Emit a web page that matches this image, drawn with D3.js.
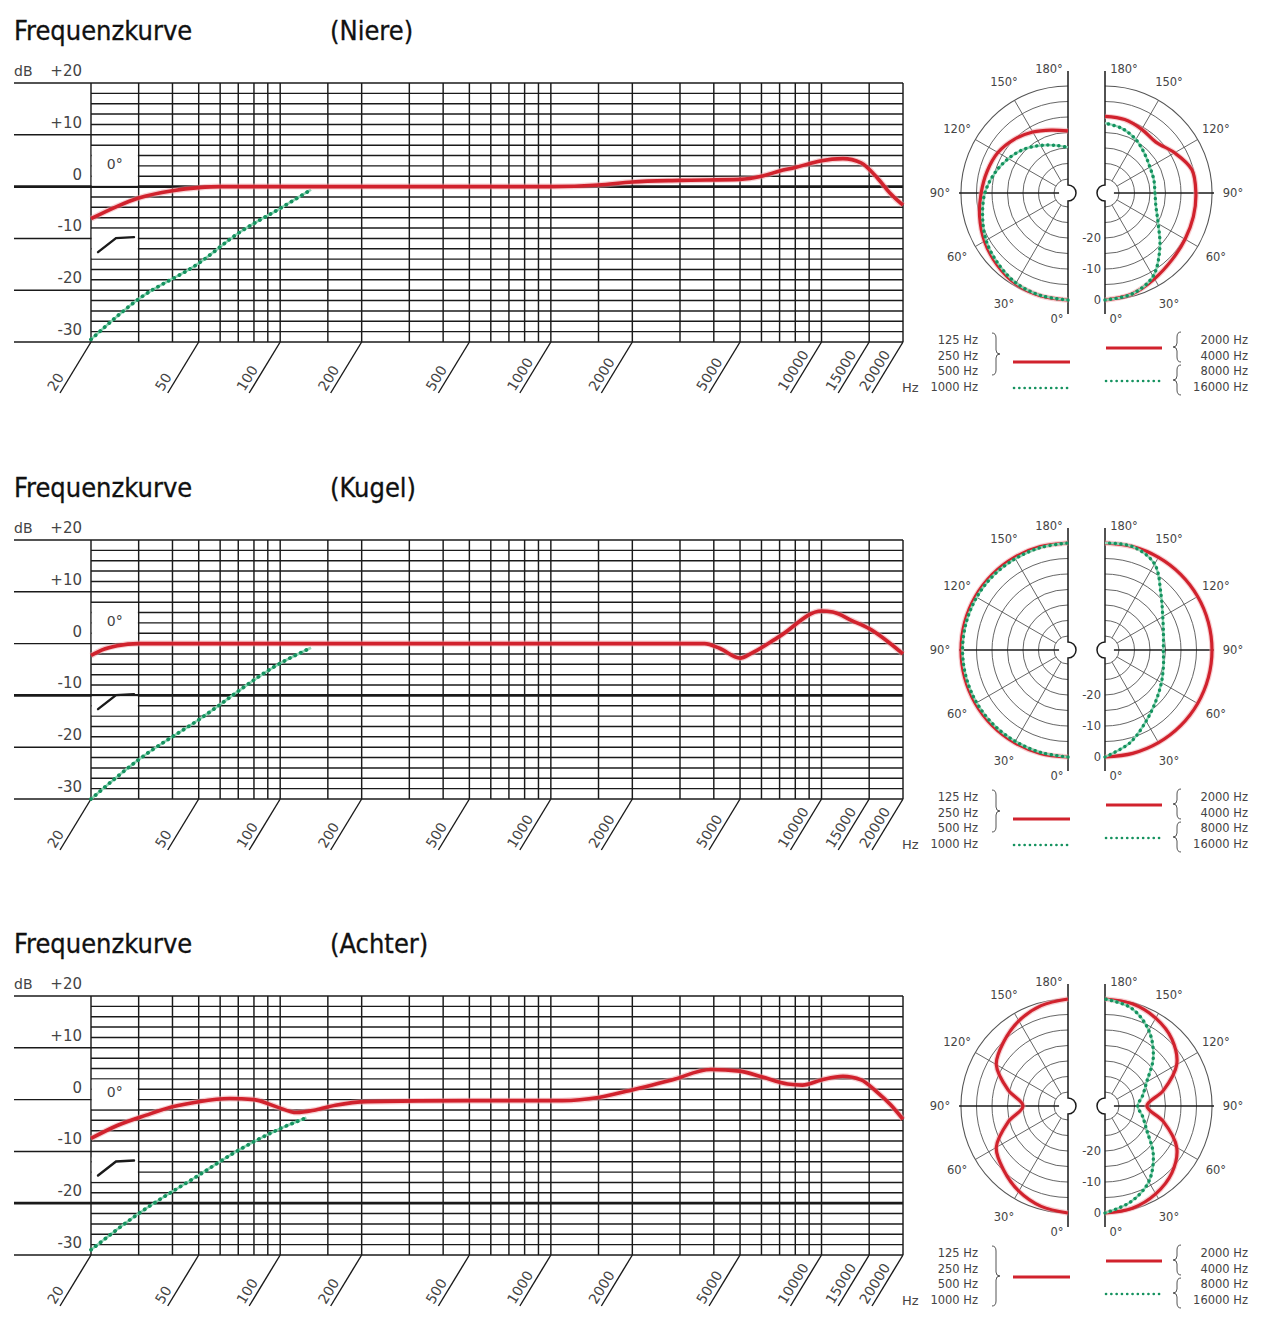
<!DOCTYPE html>
<html>
<head>
<meta charset="utf-8">
<script src="https://cdn.jsdelivr.net/npm/d3@7"></script>
<style>
  body { margin: 0; background: #fff; }
</style>
</head>
<body>
<div id="chart"></div>
<script>
// ---- axis values ----
const gridHz = [20,30,40,50,60,70,80,90,100,150,200,300,400,500,600,700,800,900,
                1000,1500,2000,3000,4000,5000,6000,7000,8000,9000,10000,15000,20000];
const labelHz = [20,50,100,200,500,1000,2000,5000,10000,15000,20000];
const dbValues = [20,10,0,-10,-20,-30];
const dbLabels = ["+20","+10","0","-10","-20","-30"];
const polarDeg = [0,15,30,45,60,75,90,105,120,135,150,165,180];
const polarLabelDeg = [0,30,60,90,120,150,180];
const polarRingDb = [-30,-25,-20,-15,-10,-5,0];
const polarRadialLabels = [0,-10,-20];
const lowBand = ["125 Hz","250 Hz","500 Hz","1000 Hz"];
const highBand = ["2000 Hz","4000 Hz","8000 Hz","16000 Hz"];
const titles = ["(Niere)","(Kugel)","(Achter)"];

// ---- frequency response [Hz, dB] ----
const niereRed = [[20,-6.2],[25,-3.8],[30,-2.2],[40,-0.8],[50,-0.2],[60,0],[100,0],[500,0],[1000,0],
  [1500,0.3],[2000,0.9],[3000,1.2],[5000,1.4],[6000,2],[7000,3],[8000,3.7],[9000,4.4],[10000,5],
  [12000,5.4],[14000,4.6],[16000,1.8],[18000,-1.4],[20000,-3.6]];
const niereGreen = [[20,-29.5],[30,-21.7],[50,-14.8],[70,-9],[100,-4.2],[130,-0.6]];

const kugelRed = [[20,-2.3],[22,-1.2],[25,-0.4],[30,0],[100,0],[1000,0],[3700,0],[4200,-0.9],
  [5000,-2.8],[5500,-1.9],[7000,1.4],[10000,6.3],[11000,6.1],[13000,4.4],[15000,2.9],[20000,-2]];
const kugelGreen = [[20,-30],[30,-22.4],[50,-14.7],[100,-3.8],[130,-0.8]];

const achterRed = [[20,-7.5],[25,-5],[32,-3],[40,-1.4],[50,-0.4],[65,0.2],[80,0],[97,-1.4],[115,-2.5],
  [135,-2],[160,-1.1],[210,-0.4],[500,-0.2],[1100,-0.2],[1500,0.4],[1900,1.6],[2800,3.8],[3900,5.8],
  [5000,5.5],[6000,4.4],[7500,3],[8500,2.8],[10000,3.8],[12000,4.5],[14000,3.8],[16000,1.5],
  [18000,-1],[20000,-3.8]];
const achterGreen = [[20,-29],[30,-22],[50,-14.6],[70,-9.8],[100,-5.6],[125,-3.5]];

// ---- polar patterns, dB at polarDeg ----
const niereLowRed    = [0,-0.2,-0.7,-2,-3.4,-5,-6.5,-7.5,-8.4,-10,-11.8,-13.5,-14.5];
const niereLowGreen  = [0,-0.3,-1,-2.5,-4,-6,-7.7,-10,-12.3,-14.5,-16.8,-18.6,-19.8];
const niereHighRed   = [0,-0.8,-2.6,-4,-4.7,-5,-5.2,-5.5,-8.6,-11.3,-10.8,-10,-9.8];
const niereHighGreen = [0,-0.8,-3.5,-9.5,-14.7,-17.5,-18.4,-18.2,-17.8,-16.5,-14.6,-13,-12];

const kugelLowRed    = [0,0,0,0,0,0,0,0,0,0,0,0,0];
const kugelLowGreen  = [0,-0.3,-0.5,-0.5,-0.5,-0.5,-0.5,-0.5,-0.5,-0.5,-0.5,-0.3,0];
const kugelHighRed   = [0,0,0,0,0,0,0,0,0,0,0,0,0];
const kugelHighGreen = [0,-3.5,-8,-11.3,-13.5,-15,-15.7,-15,-13,-9,-2.5,0,0];

const achterLowRed    = [0,-1,-2.8,-5.2,-7.8,-14.5,-20,-14.5,-7.8,-5.2,-2.8,-1,0];
const achterHighRed   = [0,-0.4,-1.8,-4,-7.8,-15,-21,-15,-7.8,-4,-1.8,-0.4,0];
const achterHighGreen = [0,-2.5,-6.3,-12.5,-19,-22,-24,-22,-19,-12.5,-6.3,-1.8,0];

const panels = [
  { dy: 0,   title: titles[0], red: niereRed,  green: niereGreen,  refDb: 0,
    box0: [8,0],  hpBox: [-8,-14],  lowRed: niereLowRed,  lowGreen: niereLowGreen,
    highRed: niereHighRed,  highGreen: niereHighGreen },
  { dy: 457, title: titles[1], red: kugelRed,  green: kugelGreen,  refDb: -10,
    box0: [8,0],  hpBox: [-10,-14], lowRed: kugelLowRed,  lowGreen: kugelLowGreen,
    highRed: kugelHighRed,  highGreen: kugelHighGreen },
  { dy: 913, title: titles[2], red: achterRed, green: achterGreen, refDb: -20,
    box0: [4,-2], hpBox: [-11,-16], lowRed: achterLowRed, lowGreen: null,
    highRed: achterHighRed, highGreen: achterHighGreen }
];

const W = 1265, H = 1320;
const red = "#d1222d", redHalo = "#f0a0a6", green = "#15925f", greenLight = "#8fd6b6";
const ink = "#1a1a1a", grey = "#444";
const font = "'DejaVu Sans', sans-serif";

const svg = d3.select("#chart").append("svg")
  .attr("width", W).attr("height", H)
  .style("font-family", font);

const x = d3.scaleLog().domain([20, 20000]).range([91, 903]);
const y = d3.scaleLinear().domain([-30, 20]).range([342, 83]);
const r = d3.scaleLinear().domain([-30, 0]).range([14, 107]);

const freqLine = d3.line().x(d => x(d[0])).y(d => y(d[1])).curve(d3.curveMonotoneX);

function brace(bx, y0, y1, dir) {
  const m = (y0 + y1) / 2, w = 4 * dir;
  return `M${bx},${y0} Q${bx+w},${y0} ${bx+w},${y0+5} L${bx+w},${m-4} Q${bx+w},${m} ${bx+2*w},${m}` +
         ` Q${bx+w},${m} ${bx+w},${m+4} L${bx+w},${y1-5} Q${bx+w},${y1} ${bx},${y1}`;
}

function drawHalf(g, cx, cy, side, redVals, greenVals) {
  const pt = (deg, rad) => {
    const t = deg * Math.PI / 180;
    return [cx + side * rad * Math.sin(t), cy + rad * Math.cos(t)];
  };
  // rings
  polarRingDb.forEach(db => {
    const p = d3.path();
    if (side > 0) p.arc(cx, cy, r(db), -Math.PI / 2, Math.PI / 2);
    else p.arc(cx, cy, r(db), Math.PI / 2, 3 * Math.PI / 2);
    g.append("path").attr("d", p.toString()).attr("fill", "none")
      .attr("stroke", "#555").attr("stroke-width", db === 0 ? 1.1 : 0.9);
  });
  // spokes
  [30, 60, 120, 150].forEach(a => {
    const p0 = pt(a, r(-30)), p1 = pt(a, r(0));
    g.append("line").attr("x1", p0[0]).attr("y1", p0[1]).attr("x2", p1[0]).attr("y2", p1[1])
      .attr("stroke", "#555").attr("stroke-width", 0.9);
  });
  // 90° axis
  const h1 = pt(90, r(0) + 2);
  g.append("line").attr("x1", cx).attr("y1", cy).attr("x2", h1[0]).attr("y2", cy)
    .attr("stroke", ink).attr("stroke-width", 1.4);
  // centre hole
  g.append("circle").attr("cx", cx).attr("cy", cy).attr("r", 9).attr("fill", "#fff");
  // vertical axis with notch
  const notch = d3.path();
  notch.moveTo(cx, cy - 122);
  notch.lineTo(cx, cy - 8);
  notch.arc(cx, cy, 8, -Math.PI / 2, Math.PI / 2, side > 0);
  notch.lineTo(cx, cy + 121);
  g.append("path").attr("d", notch.toString()).attr("fill", "none")
    .attr("stroke", ink).attr("stroke-width", 1.5);

  const radial = d3.lineRadial()
    .angle(d => side > 0 ? Math.PI - d[0] * Math.PI / 180 : Math.PI + d[0] * Math.PI / 180)
    .radius(d => r(d[1]))
    .curve(d3.curveCatmullRom);
  const gc = g.append("g").attr("transform", `translate(${cx},${cy})`);
  const redPts = polarDeg.map((a, i) => [a, redVals[i]]);
  gc.append("path").attr("d", radial(redPts)).attr("fill", "none")
    .attr("stroke", redHalo).attr("stroke-width", 5.5).attr("stroke-opacity", 0.5);
  gc.append("path").attr("d", radial(redPts)).attr("fill", "none")
    .attr("stroke", red).attr("stroke-width", 3.2);
  if (greenVals) {
    const gPts = polarDeg.map((a, i) => [a, greenVals[i]]);
    gc.append("path").attr("d", radial(gPts)).attr("fill", "none")
      .attr("stroke", greenLight).attr("stroke-width", 2.4);
    gc.append("path").attr("d", radial(gPts)).attr("fill", "none")
      .attr("stroke", green).attr("stroke-width", 3.4)
      .attr("stroke-linecap", "round").attr("stroke-dasharray", "0.1 5.5");
  }

  // angle labels
  polarLabelDeg.forEach(a => {
    let px, py;
    if (a === 180) { px = cx + side * 19; py = cy - 124; }
    else if (a === 0) { px = cx + side * 11; py = cy + 126; }
    else { [px, py] = pt(a, 128); }
    g.append("text").attr("x", px).attr("y", py).attr("text-anchor", "middle")
      .attr("dominant-baseline", "central").attr("font-size", 11.5).attr("fill", grey)
      .text(a + "°");
  });
}

panels.forEach(p => {
  const g = svg.append("g").attr("transform", `translate(0,${p.dy})`);

  // titles
  g.append("text").attr("x", 14).attr("y", 40).attr("font-size", 27)
    .attr("font-family", "'DejaVu Sans Condensed', 'DejaVu Sans', sans-serif")
    .attr("fill", "#111").attr("stroke", "#111").attr("stroke-width", 0.3)
    .text("Frequenzkurve");
  g.append("text").attr("x", 330).attr("y", 40).attr("font-size", 27)
    .attr("font-family", "'DejaVu Sans Condensed', 'DejaVu Sans', sans-serif")
    .attr("fill", "#111").attr("stroke", "#111").attr("stroke-width", 0.3)
    .text(p.title);

  // horizontal grid every 2 dB, long lines at every 10 dB
  g.append("g").selectAll("line").data(d3.range(-30, 21, 2)).join("line")
    .attr("x1", d => d % 10 === 0 ? 14 : x(20)).attr("x2", x(20000))
    .attr("y1", d => y(d)).attr("y2", d => y(d))
    .attr("stroke", ink).attr("stroke-width", d => d === p.refDb ? 2.7 : 1.45);

  // vertical grid
  g.append("g").selectAll("line").data(gridHz).join("line")
    .attr("x1", d => x(d)).attr("x2", d => x(d))
    .attr("y1", y(20)).attr("y2", y(-30))
    .attr("stroke", ink).attr("stroke-width", 1.45);

  // y labels
  g.append("text").attr("x", 14).attr("y", y(20) - 7).attr("font-size", 14)
    .attr("fill", grey).text("dB");
  g.append("g").selectAll("text").data(dbValues).join("text")
    .attr("x", 82).attr("y", d => y(d) - 7).attr("text-anchor", "end")
    .attr("font-size", 15).attr("fill", grey)
    .text((d, i) => dbLabels[i]);

  // 0° box and high-pass box
  const bx0 = x(20) + 0.8, bw = x(30) - x(20) - 1.6;
  g.append("rect").attr("x", bx0).attr("y", y(p.box0[0]) + 0.8).attr("width", bw)
    .attr("height", y(p.box0[1]) - y(p.box0[0]) - 1.6).attr("fill", "#fff");
  g.append("text").attr("x", bx0 + bw / 2).attr("y", (y(p.box0[0]) + y(p.box0[1])) / 2 - 2)
    .attr("text-anchor", "middle").attr("dominant-baseline", "central")
    .attr("font-size", 14).attr("fill", grey).text("0°");
  g.append("rect").attr("x", bx0).attr("y", y(p.hpBox[0]) + 0.8).attr("width", bw)
    .attr("height", y(p.hpBox[1]) - y(p.hpBox[0]) - 1.6).attr("fill", "#fff");
  const hb = y(p.hpBox[1]);
  g.append("path")
    .attr("d", `M${x(20) + 7},${hb - 7} L${x(20) + 25},${hb - 21} L${x(20) + 43},${hb - 22}`)
    .attr("fill", "none").attr("stroke", ink).attr("stroke-width", 2.4)
    .attr("stroke-linecap", "round");

  // x ticks (slanted) and labels
  g.append("g").selectAll("line").data(labelHz).join("line")
    .attr("x1", d => x(d)).attr("y1", y(-30))
    .attr("x2", d => x(d) - 31).attr("y2", y(-30) + 51)
    .attr("stroke", ink).attr("stroke-width", 1.4);
  g.append("g").selectAll("text").data(labelHz).join("text")
    .attr("transform", d => `translate(${x(d) - 36},${y(-30) + 50}) rotate(-58)`)
    .attr("font-size", 14).attr("fill", grey)
    .text(d => d);
  g.append("text").attr("x", 902).attr("y", 392).attr("font-size", 13)
    .attr("fill", grey).text("Hz");

  // curves
  g.append("path").attr("d", freqLine(p.green)).attr("fill", "none")
    .attr("stroke", greenLight).attr("stroke-width", 2.6);
  g.append("path").attr("d", freqLine(p.green)).attr("fill", "none")
    .attr("stroke", green).attr("stroke-width", 3.8)
    .attr("stroke-linecap", "round").attr("stroke-dasharray", "0.1 6");
  g.append("path").attr("d", freqLine(p.red)).attr("fill", "none")
    .attr("stroke", redHalo).attr("stroke-width", 6).attr("stroke-opacity", 0.5);
  g.append("path").attr("d", freqLine(p.red)).attr("fill", "none")
    .attr("stroke", red).attr("stroke-width", 3.6);

  // polar diagrams
  drawHalf(g, 1068, 193, -1, p.lowRed, p.lowGreen);
  drawHalf(g, 1105, 193, 1, p.highRed, p.highGreen);
  g.append("g").selectAll("text").data(polarRadialLabels).join("text")
    .attr("x", 1101).attr("y", d => 193 + r(d)).attr("text-anchor", "end")
    .attr("dominant-baseline", "central").attr("font-size", 11.5).attr("fill", grey)
    .text(d => d);

  // legend
  g.append("g").selectAll("text").data(lowBand).join("text")
    .attr("x", 978).attr("y", (d, i) => 344 + i * 15.5).attr("text-anchor", "end")
    .attr("font-size", 11.5).attr("fill", grey).text(d => d);
  g.append("g").selectAll("text").data(highBand).join("text")
    .attr("x", 1248).attr("y", (d, i) => 344 + i * 15.5).attr("text-anchor", "end")
    .attr("font-size", 11.5).attr("fill", grey).text(d => d);

  const braceStyle = s => s.attr("fill", "none").attr("stroke", "#555").attr("stroke-width", 1);
  if (p.lowGreen) {
    g.append("path").attr("d", brace(992, 333, 375, 1)).call(braceStyle);
    g.append("line").attr("x1", 1013).attr("x2", 1070).attr("y1", 362).attr("y2", 362)
      .attr("stroke", red).attr("stroke-width", 3);
    g.append("line").attr("x1", 1014).attr("x2", 1068).attr("y1", 388).attr("y2", 388)
      .attr("stroke", green).attr("stroke-width", 2.6).attr("stroke-linecap", "round")
      .attr("stroke-dasharray", "0.1 5.2");
  } else {
    g.append("path").attr("d", brace(992, 333, 393, 1)).call(braceStyle);
    g.append("line").attr("x1", 1013).attr("x2", 1070).attr("y1", 364).attr("y2", 364)
      .attr("stroke", red).attr("stroke-width", 3);
  }
  g.append("path").attr("d", brace(1181, 332, 362, -1)).call(braceStyle);
  g.append("path").attr("d", brace(1181, 365, 395, -1)).call(braceStyle);
  g.append("line").attr("x1", 1106).attr("x2", 1162).attr("y1", 348).attr("y2", 348)
    .attr("stroke", red).attr("stroke-width", 3);
  g.append("line").attr("x1", 1106).attr("x2", 1160).attr("y1", 381).attr("y2", 381)
    .attr("stroke", green).attr("stroke-width", 2.6).attr("stroke-linecap", "round")
    .attr("stroke-dasharray", "0.1 5.2");
});
</script>
</body>
</html>
